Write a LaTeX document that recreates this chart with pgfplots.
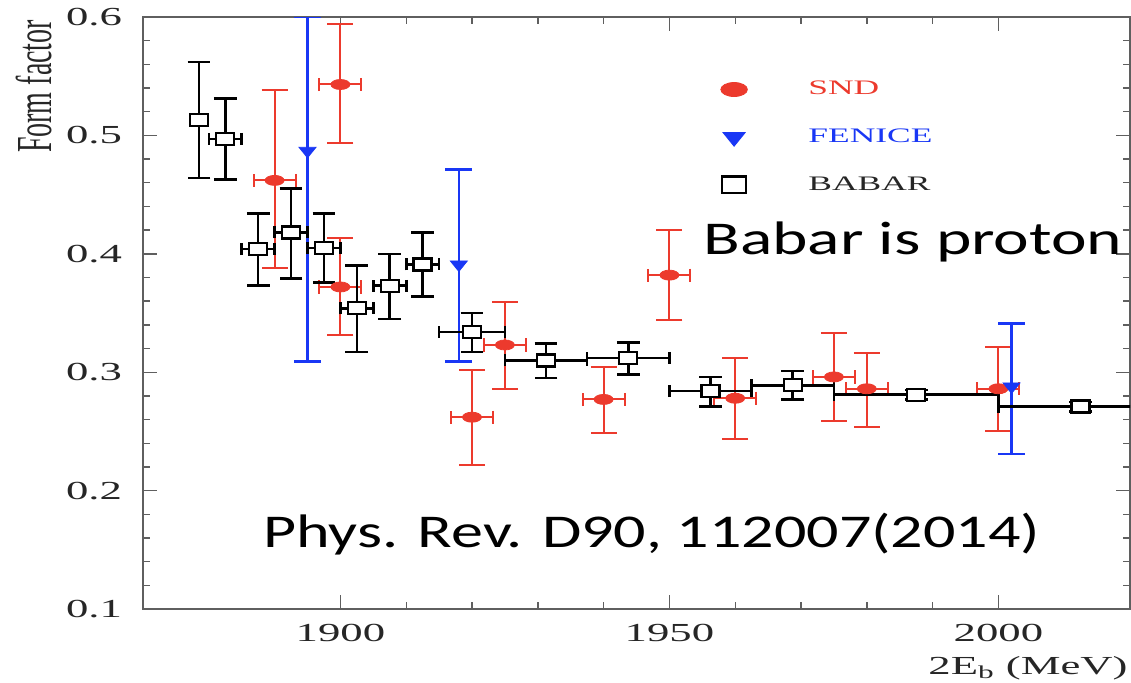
\documentclass[border=0pt]{standalone}
\usepackage{pgfplots}
\pgfplotsset{compat=1.18}
\usepackage{pgfplotstable}
\usepackage{fontspec}
\usepackage{graphicx}
\setmainfont{Liberation Serif}[FakeStretch=1.72]
\newfontfamily\plainserif{Liberation Serif}
\newfontfamily\calib{Carlito}[FakeStretch=1.38]
\definecolor{sndred}{RGB}{236,58,45}
\definecolor{fenblue}{RGB}{25,55,245}
\definecolor{axgray}{RGB}{95,95,95}

\pgfplotstableread{
x y ex eyp eym
1890 0.462 3.2 0.076 0.074
1900 0.543 3.2 0.051 0.049
1900 0.372 3.2 0.041 0.041
1920 0.262 3.2 0.040 0.040
1925 0.323 3.2 0.036 0.037
1940 0.277 3.2 0.027 0.028
1950 0.382 3.2 0.038 0.038
1960 0.278 3.2 0.034 0.034
1975 0.296 3.2 0.037 0.037
1980 0.286 3.2 0.030 0.032
2000 0.286 3.2 0.035 0.036
}\snd

\pgfplotstableread{
x y eyp eym
1895 0.487 0.113 0.178
1918 0.391 0.080 0.082
2002 0.288 0.053 0.057
}\fenice

\pgfplotstableread{
x y ex eyp eym
1878.5  0.513 0    0.049 0.049
1882.5  0.497 2.5  0.034 0.034
1887.5  0.404 2.5  0.030 0.031
1892.5  0.418 2.5  0.037 0.039
1897.5  0.405 2.5  0.029 0.029
1902.5  0.354 2.5  0.036 0.037
1907.5  0.373 2.5  0.027 0.028
1912.5  0.391 2.5  0.027 0.027
1920    0.334 5    0.016 0.017
1931.25 0.310 6.25 0.014 0.015
1943.75 0.312 6.25 0.013 0.014
1956.25 0.284 6.25 0.012 0.013
1968.75 0.289 6.25 0.012 0.012
1987.5  0.281 12.5 0.004 0.004
2012.5  0.271 12.5 0.004 0.004
}\babar

\pgfplotsset{dotlegend/.style={legend image code/.code={\draw[mark repeat=1,##1,every mark/.append style={scale=#1}] plot coordinates {(0pt,0pt)};}}}

\begin{document}
\begin{tikzpicture}
\useasboundingbox (0,0) rectangle (565.5pt,341pt);
\begin{axis}[
  at={(71.5pt,36.5pt)}, anchor=south west,
  scale only axis, width=493.5pt, height=296pt,
  xmin=1870, xmax=2020, ymin=0.1, ymax=0.6,
  xtick={1900,1950,2000}, minor x tick num=4,
  ytick={0.1,0.2,0.3,0.4,0.5,0.6}, minor y tick num=4,
  tick align=inside, major tick length=7pt, minor tick length=3.5pt,
  axis line style={axgray, line width=0.8pt},
  tick style={axgray, line width=0.7pt},
  tick label style={font=\fontsize{13}{15}\selectfont, text=black!85},
  /pgf/number format/assume math mode=true,
  /pgf/number format/1000 sep={},
  yticklabel style={/pgf/number format/fixed, /pgf/number format/fixed zerofill, /pgf/number format/precision=1, xshift=-7pt},
  xticklabel style={yshift=-4pt},
  xlabel={2E\textsubscript{b} (MeV)},
  xlabel style={at={(rel axis cs:1,0)}, anchor=base east, inner sep=0pt, yshift=-32.5pt, xshift=-1pt, font=\fontsize{13}{15}\selectfont, text=black!85},
  ylabel={\plainserif\scalebox{1}[1.8]{Form factor}},
  ylabel style={at={(rel axis cs:-0.0932,0.8826)}, anchor=base, font=\fontsize{14}{16}\selectfont, text=black!85},
  legend style={draw=none, fill=none, at={(rel axis cs:0.585,0.899)}, anchor=north west, row sep=11.5pt, font=\fontsize{10.3}{12}\selectfont, inner sep=0pt},
  legend cell align=left,
]
% SND
\addplot[only marks, dotlegend=1.4, color=sndred, mark=*, mark size=2.5pt, mark options={xscale=1.9, fill=sndred, draw=sndred, line width=0.4pt},
  error bars/.cd, y dir=both, y explicit, error bar style={line width=1pt, sndred}, error mark options={rotate=90, sndred, line width=1pt, mark size=6.5pt}]
  table[x=x, y=y, y error plus=eyp, y error minus=eym]{\snd};
\addlegendentry{\hspace{28.5pt}\textcolor{sndred}{SND}}
\addplot[forget plot, only marks, mark=none, color=sndred,
  error bars/.cd, x dir=both, x explicit, error bar style={line width=1pt, sndred}, error mark options={rotate=90, sndred, line width=1pt, mark size=3.3pt}]
  table[x=x, y=y, x error=ex]{\snd};
% FENICE
\addplot[only marks, dotlegend=1.3, color=fenblue, mark=triangle*, mark size=3.5pt, mark options={rotate=180, xscale=1.4, fill=fenblue, draw=fenblue},
  error bars/.cd, y dir=both, y explicit, error bar style={line width=1.3pt, fenblue}, error mark options={rotate=90, fenblue, line width=1.3pt, mark size=6.7pt}]
  table[x=x, y=y, y error plus=eyp, y error minus=eym]{\fenice};
\addlegendentry{\hspace{28.5pt}\textcolor{fenblue}{FENICE}}
% BABAR
\addplot[only marks, forget plot, mark=none, color=black,
  error bars/.cd, x dir=both, x explicit, error bar style={line width=1.3pt, black}, error mark options={rotate=90, black, line width=1.3pt, mark size=3pt}]
  table[x=x, y=y, x error=ex]{\babar};
\addplot[only marks, dotlegend=1.35, color=black, mark=square*, mark size=3pt, mark options={xscale=1.5, fill=white, draw=black, line width=1.2pt},
  error bars/.cd, y dir=both, y explicit, error bar style={line width=1.3pt, black}, error mark options={rotate=90, black, line width=1.3pt, mark size=5.7pt}]
  table[x=x, y=y, y error plus=eyp, y error minus=eym]{\babar};
\addlegendentry{\hspace{28.5pt}\textcolor{black!85}{BABAR}}
\node[anchor=base west, inner sep=0pt, font=\calib\fontsize{23.5}{28}\selectfont] at (rel axis cs:0.5674,0.598) {\scalebox{1.04}[1]{Babar is proton}};
\node[anchor=base west, inner sep=0pt, font=\calib\fontsize{23.5}{28}\selectfont] at (rel axis cs:0.1216,0.1047) {\scalebox{0.987}[1]{Phys. Rev. D90, 112007(2014)}};
\end{axis}
\end{tikzpicture}
\end{document}
